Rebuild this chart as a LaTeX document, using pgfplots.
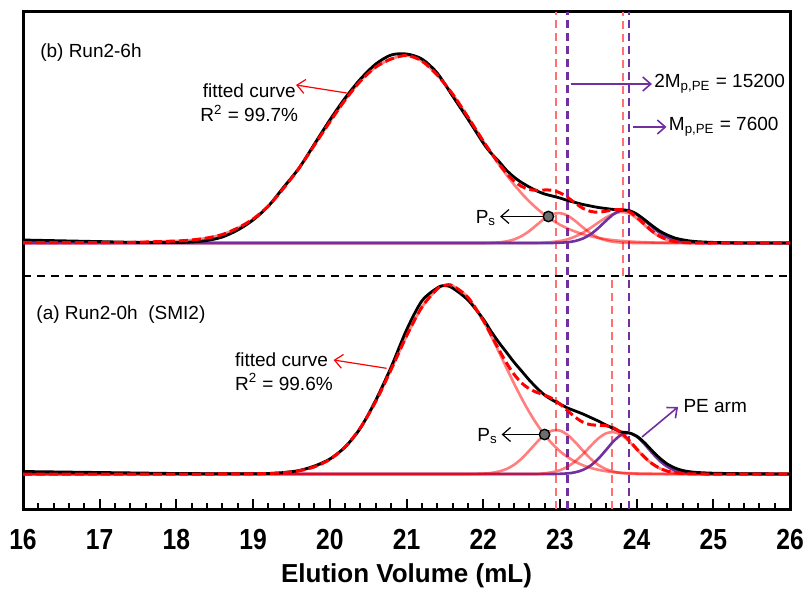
\documentclass[border=0pt]{standalone}
\usepackage{fontspec}
\setmainfont{Liberation Sans}
\newfontfamily\narrowsans[FakeStretch=0.85]{Liberation Sans}
\usepackage{pgfplots}
\usepackage{pgfplotstable}
\pgfplotsset{compat=1.18}
\usetikzlibrary{arrows.meta}
\definecolor{pePurple}{HTML}{7030A0}
\definecolor{vPink}{HTML}{FF7070}
\definecolor{psGrey}{HTML}{6E6E6E}

% heights in px above each baseline (upper baseline y=266, lower y=35)
\pgfplotstableread{
x blk red main ps pk pe
16.0 3.0 0.3 0.3 0 0 0
16.5 2.2 0.3 0.3 0 0 0
17.0 1.4 0.4 0.4 0 0 0
17.5 0.6 0.8 0.8 0 0 0
18.0 0.5 2.0 2.0 0 0 0
18.2 1.0 3.0 3.0 0 0 0
18.4 2.5 5.0 5.0 0 0 0
18.6 6.0 8.5 8.5 0 0 0
18.8 13 15 15 0 0 0
19.0 23 24 24 0 0 0
19.2 37 37 37 0 0 0
19.4 56 55 55 0 0 0
19.6 75 75 75 0 0 0
19.8 99 98 98 0 0 0
20.0 123 121 121 0 0 0
20.2 145 143 143 0 0 0
20.4 164 162 162 0 0 0
20.6 179 176 176 0 0 0
20.8 188 184 184 0 0 0
21.0 189 187.5 187.5 0 0 0
21.2 184 182 182 0 0 0
21.4 170 168 168 0 0 0
21.6 147 149 149 0 0 0
21.8 124 126 126 0 0 0
22.0 100 102 102 0 0 0
22.1 90 90.6 90.4 0.2 0 0
22.2 82 79.7 79.1 0.6 0 0
22.3 73 70.1 68.5 1.6 0 0
22.4 66 62.2 58.7 3.5 0 0
22.5 60.5 56.6 49.7 6.9 0 0
22.6 56 53.5 41.6 11.9 0 0
22.7 52 52.7 34.5 18.2 0 0
22.8 49 53.0 28.2 24.4 0.4 0
22.9 47 52.7 22.9 28.8 1.0 0
23.0 45 50.2 18.3 29.9 2.0 0.3
23.1 42.5 45.6 14.5 27.4 3.7 0.8
23.2 40.5 39.9 11.4 22.0 6.5 2.0
23.3 38.5 34.7 8.8 15.6 10.3 4.5
23.4 37 31.6 6.8 9.7 15.1 8.7
23.5 35.5 30.8 5.1 5.3 20.4 14.9
23.6 34.5 31.8 3.8 2.6 25.4 22.2
23.7 33.5 33.1 2.8 1.1 29.2 28.8
23.8 33 33.5 2.1 0.4 31.0 32.6
23.9 32.5 31.4 1.6 0.1 29.7 32.3
24.0 29 25.9 1.1 0 24.8 28.6
24.1 23.5 18.9 0.8 0 18.1 22.7
24.2 17.5 12.0 0.5 0 11.5 16.1
24.3 12 6.8 0.35 0 6.4 10.2
24.4 8 3.4 0.25 0 3.1 5.8
24.5 5 1.4 0.1 0 1.3 2.9
24.6 3.2 0.6 0.1 0 0.5 1.3
24.7 2.0 0.2 0 0 0.15 0.5
24.8 1.3 0.1 0 0 0 0.2
24.9 0.9 0 0 0 0 0
25.0 0.6 0 0 0 0 0
25.2 0.2 0 0 0 0 0
25.5 0 0 0 0 0 0
26.0 0 0 0 0 0 0
}\sixh

\pgfplotstableread{
x blk red main ps pk pe
16.0 2.5 0 0 0 0 0
16.5 2.0 0 0 0 0 0
17.0 1.5 0 0 0 0 0
17.5 1.0 0 0 0 0 0
18.0 0.5 0 0 0 0 0
18.5 0.3 0 0 0 0 0
19.0 0.3 0.2 0.2 0 0 0
19.2 0.5 0.5 0.5 0 0 0
19.4 1.5 1.3 1.3 0 0 0
19.6 3.5 3.2 3.2 0 0 0
19.8 8 7.2 7.2 0 0 0
20.0 15 14.5 14.5 0 0 0
20.2 27 27.1 27.1 0 0 0
20.4 46 46.4 46.4 0 0 0
20.6 74 72.7 72.7 0 0 0
20.8 107 104.6 104.6 0 0 0
21.0 144 137.9 137.9 0 0 0
21.2 173 166.8 166.8 0 0 0
21.4 186 185.0 185.0 0 0 0
21.5 188.5 188.7 188.7 0 0 0
21.6 186 188.3 188.3 0 0 0
21.8 174 176.7 176.7 0 0 0
22.0 155 153.6 153.2 0.4 0 0
22.1 143 139.5 138.5 1.0 0 0
22.2 132 125.1 122.7 2.4 0 0
22.3 122 111.5 106.6 4.9 0 0
22.4 112 99.9 90.8 9.1 0 0
22.5 103 91.1 75.8 15.3 0 0
22.6 94 85.3 62.0 23.3 0 0
22.7 86 81.6 49.8 31.8 0 0
22.8 79 78.9 39.1 39.1 0.7 0
22.9 74 75.4 30.2 43.4 1.8 0
23.0 70 70.0 22.8 43.4 3.8 0.2
23.1 66 63.3 16.9 39.1 7.3 0.6
23.2 63 56.8 12.3 31.8 12.7 1.7
23.3 60 51.8 8.7 23.3 19.8 4.1
23.4 56.5 49.3 6.1 15.3 27.9 8.4
23.5 53 48.8 4.2 9.1 35.5 15.2
23.6 49 48.3 2.8 4.9 40.6 23.9
23.7 45.5 46.1 1.8 2.4 41.9 32.8
23.8 42 41.2 1.2 1.0 39.0 39.2
23.9 41.2 33.9 0.8 0.4 32.7 41.0
24.0 38 25.2 0.5 0 24.7 37.4
24.1 31.5 17.1 0.3 0 16.8 30.1
24.2 23.5 10.5 0.2 0 10.3 21.3
24.3 16 5.8 0.1 0 5.7 13.3
24.4 10 2.9 0 0 2.8 7.3
24.5 6 1.3 0 0 1.3 3.5
24.6 3.5 0.5 0 0 0.5 1.5
24.7 2.2 0.2 0 0 0.2 0.6
24.8 1.5 0.1 0 0 0 0.2
24.9 1.1 0 0 0 0 0
25.0 0.8 0 0 0 0 0
25.2 0.5 0 0 0 0 0
25.5 0.2 0 0 0 0 0
26.0 0 0 0 0 0 0
}\zeroh

\pgfplotsset{
  sComp/.style={color=red, opacity=0.5, line width=1.3pt, smooth},
  sPE/.style={color=pePurple, line width=1.3pt, smooth},
  sExp/.style={color=black, line width=1.4pt, smooth},
  sFit/.style={color=red, line width=1.5pt, dash pattern=on 4.5pt off 2pt, smooth},
  vPinkL/.style={color=vPink, line width=1.2pt, dash pattern=on 4pt off 2.5pt},
  vPurpL/.style={color=pePurple, line width=1.1pt, dash pattern=on 4pt off 2.5pt},
}
\tikzset{annArrow/.style={line width=0.6pt, -{Straight Barb[length=4pt,width=7pt]}}}

\begin{document}
\begin{tikzpicture}
\begin{axis}[
  name=ax,
  scale only axis,
  width=383.5pt, height=248.5pt,
  xmin=16, xmax=26, ymin=0, ymax=497,
  ytick=\empty,
  xtick={16,...,26},
  minor x tick num=4,
  xtick pos=left,
  tick align=inside,
  major tick length=5pt, minor tick length=3pt,
  every tick/.style={black, line width=1pt},
  axis line style={line width=1.5pt},
  /pgf/number format/assume math mode=true,
  xticklabel style={font=\narrowsans\bfseries\fontsize{14.5}{14.5}\selectfont, yshift=-6.5pt},
  xlabel={Elution Volume (mL)},
  xlabel style={font=\bfseries\fontsize{13}{13}\selectfont, yshift=0pt},
  no markers,
  font=\fontsize{9.5}{12}\selectfont,
]
% reference lines
\addplot[vPinkL] coordinates {(22.95,0) (22.95,497)};
\addplot[vPinkL] coordinates {(23.82,233) (23.82,497)};
\addplot[vPinkL] coordinates {(23.68,0) (23.68,233)};
\addplot[vPurpL] coordinates {(23.1,0) (23.1,497)};
\addplot[vPurpL] coordinates {(23.9,0) (23.9,497)};
\addplot[black, line width=1.2pt, dash pattern=on 4pt off 3pt] coordinates {(16,233) (26,233)};

% (b) Run2-6h, baseline at 266
\addplot[sComp] table[x=x, y expr=\thisrow{main}+266] {\sixh};
\addplot[sComp] table[x=x, y expr=\thisrow{ps}+266] {\sixh};
\addplot[sComp] table[x=x, y expr=\thisrow{pk}+266] {\sixh};
\addplot[sPE] table[x=x, y expr=\thisrow{pe}+266] {\sixh};
\addplot[sExp] table[x=x, y expr=\thisrow{blk}+266] {\sixh};
\addplot[sFit] table[x=x, y expr=\thisrow{red}+266] {\sixh};

% (a) Run2-0h, baseline at 35
\addplot[sPE] table[x=x, y expr=\thisrow{pe}+35] {\zeroh};
\addplot[sComp] table[x=x, y expr=\thisrow{main}+35] {\zeroh};
\addplot[sComp] table[x=x, y expr=\thisrow{ps}+35] {\zeroh};
\addplot[sComp] table[x=x, y expr=\thisrow{pk}+35] {\zeroh};
\addplot[sExp] table[x=x, y expr=\thisrow{blk}+35] {\zeroh};
\addplot[sFit] table[x=x, y expr=\thisrow{red}+35] {\zeroh};

% P_s markers
\addplot[only marks, mark=*, mark size=2.6pt, mark options={fill=psGrey, draw=black, line width=0.7pt}]
  coordinates {(22.85,292.5) (22.80,74.5)};

% annotations
\node[anchor=west, inner sep=0pt] at (axis cs:16.22,456) {(b) Run2-6h};
\node[anchor=west, inner sep=0pt] at (axis cs:16.17,194) {(a) Run2-0h\ \ (SMI2)};

\draw[annArrow, red] (axis cs:20.22,416) -- (axis cs:19.56,424);
\node[align=center] at (axis cs:18.95,406) {fitted curve\\R\textsuperscript{2} = 99.7\%};
\draw[annArrow, red] (axis cs:20.74,140.7) -- (axis cs:20.05,149);
\node[align=left, anchor=west, inner sep=0pt] at (axis cs:18.76,137.5) {fitted curve\\R\textsuperscript{2} = 99.6\%};

\draw[annArrow, black] (axis cs:22.85,292.5) -- (axis cs:22.22,292.5);
\node[anchor=east, inner sep=1pt] at (axis cs:22.2,291) {P\textsubscript{s}};
\draw[annArrow, black] (axis cs:22.80,74.5) -- (axis cs:22.24,74.5);
\node[anchor=east, inner sep=1pt] at (axis cs:22.22,73) {P\textsubscript{s}};

\draw[annArrow, pePurple, line width=0.8pt] (axis cs:23.14,425) -- (axis cs:24.2,425);
\node[anchor=west, inner sep=1pt] at (axis cs:24.2,425) {2M\textsubscript{p,PE} = 15200};
\draw[annArrow, pePurple, line width=0.8pt] (axis cs:23.95,382) -- (axis cs:24.39,382);
\node[anchor=west, inner sep=1pt] at (axis cs:24.39,382) {M\textsubscript{p,PE} = 7600};
\draw[annArrow, pePurple, line width=0.8pt] (axis cs:24.07,72) -- (axis cs:24.54,102);
\node[anchor=west, inner sep=1pt] at (axis cs:24.58,103) {PE arm};
\end{axis}
\pgfresetboundingbox
\path[use as bounding box] ([xshift=-11.5pt,yshift=-39.5pt]ax.south west) rectangle ([xshift=8pt,yshift=6pt]ax.north east);
\end{tikzpicture}
\end{document}
